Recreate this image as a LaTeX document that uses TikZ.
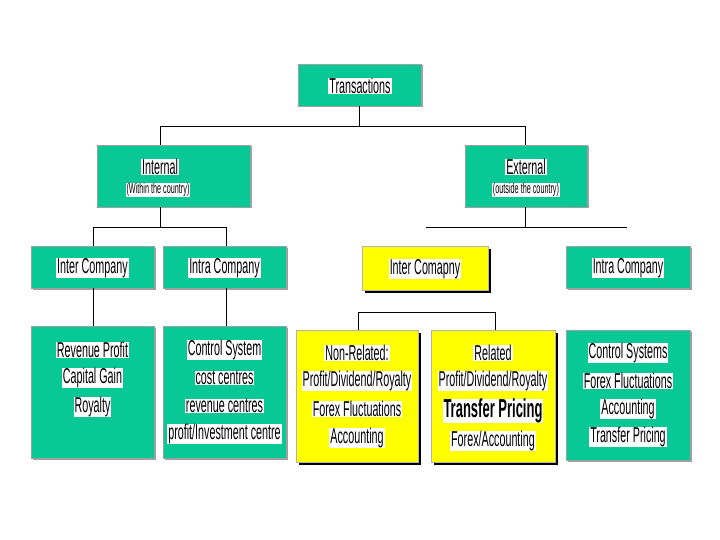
\documentclass[tikz,border=0pt]{standalone}
\usepackage{fontspec}
\setmainfont{Liberation Sans}[FakeStretch=0.5]
\usetikzlibrary{shadows}

\definecolor{tealfill}{RGB}{8,200,150}
\definecolor{yellowfill}{RGB}{255,255,0}

\tikzset{
  tealbox/.style={fill=tealfill, draw=gray!75, line width=0.8pt, inner sep=0pt,
    general shadow={fill=gray!75, shadow xshift=1.5pt, shadow yshift=-1.5pt}},
  yellowbox/.style={fill=yellowfill, draw=gray!60, line width=0.6pt, inner sep=0pt,
    general shadow={fill=black, shadow xshift=2.5pt, shadow yshift=-2.5pt}},
  txt/.style={fill=white, inner xsep=1pt, inner ysep=0pt, font=\fontsize{21.5}{22}\selectfont},
  smalltxt/.style={fill=white, inner sep=0.5pt, font=\fontsize{14.5}{15}\selectfont},
  link/.style={draw=black, line width=0.9pt}
}

\begin{document}
\begin{tikzpicture}[x=1pt, y=-1pt]
  \useasboundingbox (0,0) rectangle (720,540);

  % -- Top --
  \node[tealbox, minimum width=123pt, minimum height=42pt] (trans) at (359.5,85) {};
  \node[txt] (transT) at (360,86) {Transactions};

  % -- Second level --
  \node[tealbox, minimum width=153pt, minimum height=62pt] (internal) at (173.5,176) {};
  \node[txt] (internalT) at (160,167) {Internal};
  \node[smalltxt] (internalS) at (158,190) {(Within the country)};

  \node[tealbox, minimum width=122pt, minimum height=62pt] (external) at (526,176) {};
  \node[txt] (externalT) at (526,167) {External};
  \node[smalltxt] (externalS) at (526,190) {(outside the country)};

  % -- Third level --
  \node[tealbox, minimum width=123pt, minimum height=42pt] (interL) at (92.5,267) {};
  \node[txt] (interLT) at (92.5,268) {Inter Company};
  \node[tealbox, minimum width=123pt, minimum height=42pt] (intraL) at (224.5,267) {};
  \node[txt] (intraLT) at (224.5,268) {Intra Company};

  \node[yellowbox, minimum width=126pt, minimum height=44pt] (interR) at (425,268) {};
  \node[txt] (interRT) at (425,269) {Inter Comapny};
  \node[tealbox, minimum width=124pt, minimum height=42pt] (intraR) at (628,267) {};
  \node[txt] (intraRT) at (628,268) {Intra Company};

  % -- Bottom boxes --
  \node[tealbox, minimum width=123pt, minimum height=132pt] (revenue) at (92.5,392) {};
  \node[txt] (rev1) at (92.5,350) {Revenue Profit};
  \node[txt] (rev2) at (92.5,378) {Capital Gain};
  \node[txt] (rev3) at (92.5,407) {Royalty};

  \node[tealbox, minimum width=123pt, minimum height=132pt] (control) at (224.5,392) {};
  \node[txt] (ctl1) at (224.5,350) {Control System};
  \node[txt] (ctl2) at (224.5,378) {cost centres};
  \node[txt] (ctl3) at (224.5,406) {revenue centres};
  \node[txt] (ctl4) at (224.5,434) {profit/Investment centre};

  \node[yellowbox, minimum width=122pt, minimum height=132pt] (nonrel) at (357,396) {};
  \node[txt] (nr1) at (357,353) {Non-Related:};
  \node[txt] (nr2) at (357,381) {Profit/Dividend/Royalty};
  \node[txt] (nr3) at (357,409) {Forex Fluctuations};
  \node[txt] (nr4) at (357,438) {Accounting};

  \node[yellowbox, minimum width=124pt, minimum height=132pt] (related) at (493,396) {};
  \node[txt] (rl1) at (493,353) {Related};
  \node[txt] (rl2) at (493,381) {Profit/Dividend/Royalty};
  \node[txt, font=\fontsize{26}{27}\selectfont\bfseries] (rl3) at (493,411) {Transfer Pricing};
  \node[txt] (rl4) at (493,441) {Forex/Accounting};

  \node[tealbox, minimum width=124pt, minimum height=130pt] (systems) at (628,395) {};
  \node[txt] (sy1) at (628,353) {Control Systems};
  \node[txt] (sy2) at (628,381) {Forex Fluctuations};
  \node[txt] (sy3) at (628,409) {Accounting};
  \node[txt] (sy4) at (628,437) {Transfer Pricing};

  % -- Junctions --
  \coordinate (jtop) at (359.5,126);
  \coordinate (jint) at (160,126);
  \coordinate (jext) at (525,126);
  \coordinate (jintL) at (93,227);
  \coordinate (jintR) at (226,227);
  \coordinate (jextL) at (426,227);
  \coordinate (jextR) at (627,227);
  \coordinate (jyL) at (358.5,312);
  \coordinate (jyR) at (495,312);

  % -- Connectors --
  \draw[link] (trans.south) -- (jtop);
  \draw[link] (jint) -- (jext);
  \draw[link] (jint) -- (jint |- internal.north);
  \draw[link] (jext) -- (jext |- external.north);

  \draw[link] (jint |- internal.south) -- (jint |- jintL);
  \draw[link] (jintL) -- (jintR);
  \draw[link] (jintL) -- (jintL |- interL.north);
  \draw[link] (jintR) -- (jintR |- intraL.north);
  \draw[link] (jintL |- interL.south) -- (jintL |- revenue.north);
  \draw[link] (jintR |- intraL.south) -- (jintR |- control.north);

  \draw[link] (jext |- external.south) -- (jext |- jextL);
  \draw[link] (jextL) -- (jextR);

  \draw[link] (jyL) -- (jyR);
  \draw[link] (jyL) -- (jyL |- nonrel.north);
  \draw[link] (jyR) -- (jyR |- related.north);

\end{tikzpicture}
\end{document}
